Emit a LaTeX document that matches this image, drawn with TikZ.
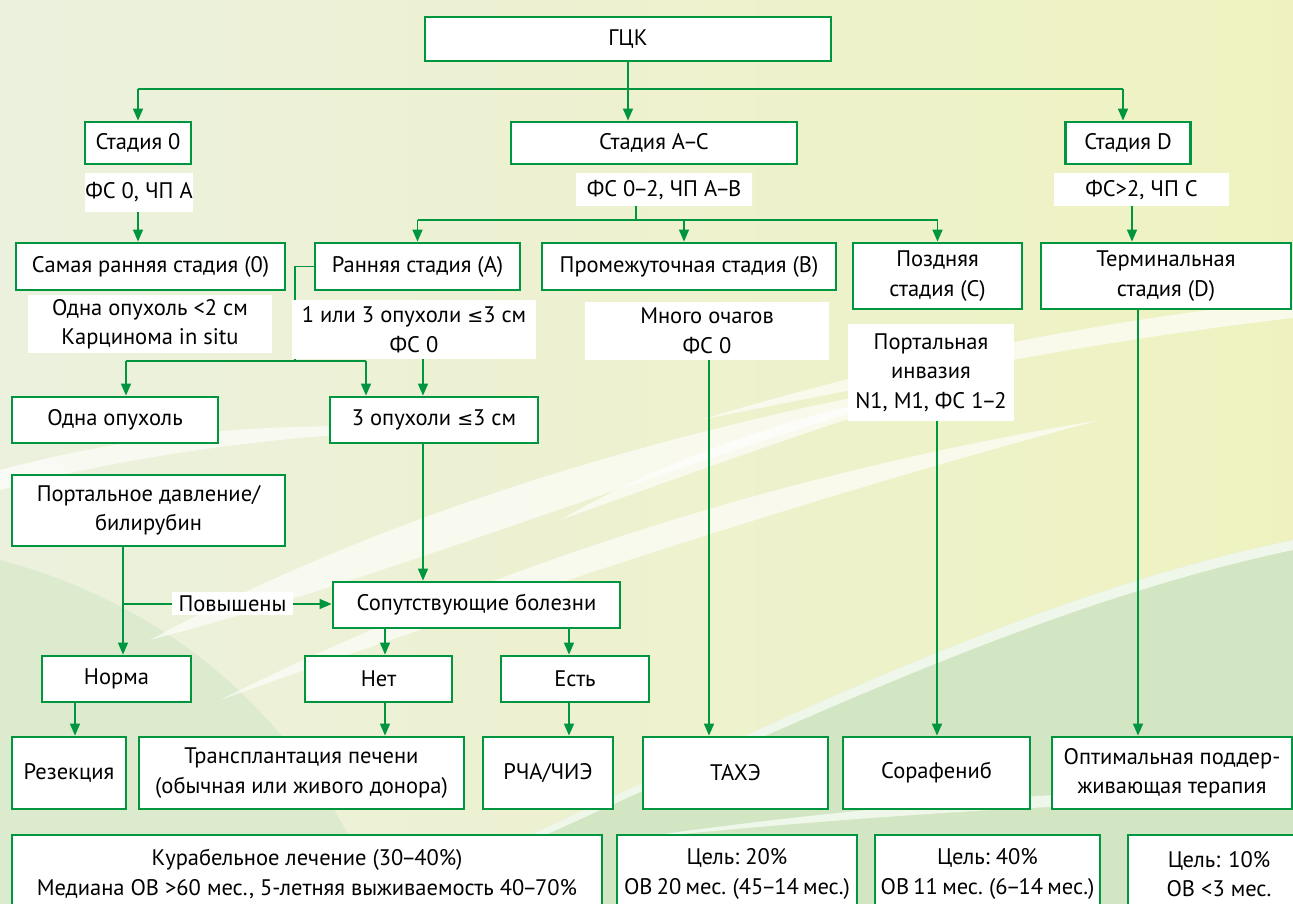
\documentclass[tikz,border=0pt]{standalone}
\usepackage{fontspec}
\setmainfont{PT Sans}
\newfontfamily\djv{DejaVu Sans}
\usetikzlibrary{arrows.meta}
\definecolor{grn}{RGB}{0,150,64}
\definecolor{bgA}{RGB}{236,241,222}
\definecolor{bgB}{RGB}{239,242,192}
\definecolor{bgG}{RGB}{210,230,196}
\newcommand\myfs{\fontsize{22.5}{29.5}\selectfont}
\newcommand\myfsn{\fontsize{22.5}{29.5}\selectfont\spaceskip=0.19em plus 0.05em}
\newcommand\myle{{\djv\fontsize{19}{29.5}\selectfont ≤}}
\newcommand\nd{\kern-2pt–\kern-2pt}
\begin{document}
\begin{tikzpicture}[x=1pt,y=-1pt,
 box/.style={draw=grn,line width=2.8pt,fill=white,inner sep=0pt,align=center,font=\myfs},
 lab/.style={fill=white,inner sep=0pt,align=center,font=\myfs},
 con/.style={draw=grn,line width=1.5pt},
 arr/.style={con,-{Triangle[length=12pt,width=10pt]}},
 streak/.style={fill=white,opacity=0.65,draw=none}]
\useasboundingbox (0,0) rectangle (1293,904);
\clip (0,0) rectangle (1293,904);
% background
\shade[left color=bgA,right color=bgB] (0,0) rectangle (1293,904);
\fill[bgG] (380,904) .. controls (700,760) and (1000,600) .. (1293,540) -- (1293,904) -- cycle;
\fill[bgG!60!bgA] (0,560) .. controls (150,600) and (300,700) .. (380,904) -- (0,904) -- cycle;
\path[streak] (150,640) .. controls (400,505) and (700,420) .. (1000,370) .. controls (700,450) and (400,575) .. (150,640) -- cycle;
\path[streak] (220,700) .. controls (500,560) and (800,470) .. (1100,420) .. controls (800,500) and (500,600) .. (220,700) -- cycle;
\path[streak] (700,420) .. controls (900,360) and (1100,320) .. (1293,300) -- (1293,318) .. controls (1100,340) and (900,380) .. (700,420) -- cycle;
\path[streak] (380,904) .. controls (700,760) and (1000,600) .. (1293,540) -- (1293,550) .. controls (1000,612) and (700,770) .. (390,904) -- cycle;
\path[streak] (620,840) .. controls (900,800) and (1100,790) .. (1293,785) -- (1293,800) .. controls (1100,802) and (900,812) .. (620,840) -- cycle;
\path[streak] (0,470) .. controls (150,430) and (300,420) .. (420,430) .. controls (300,435) and (150,450) .. (0,490) -- cycle;
\path[streak] (560,520) .. controls (700,440) and (850,400) .. (960,385) .. controls (850,415) and (700,470) .. (560,520) -- cycle;

% boxes
\node[box,minimum width=406pt,minimum height=44pt] (gck) at (628,39) {ГЦК};
\node[box,minimum width=106pt,minimum height=42pt] (s0) at (138,143) {Стадия 0};
\node[box,minimum width=286pt,minimum height=42pt] (sac) at (654,143) {Стадия А\nd С};
\node[box,minimum width=125pt,minimum height=42pt] (sd) at (1128,143) {Стадия D};

\node[box,minimum width=269pt,minimum height=47pt] (sr0) at (150.5,266.5) {Самая ранняя стадия (0)};
\node[box,minimum width=205pt,minimum height=47pt] (ra) at (417.5,266.5) {Ранняя стадия (А)};
\node[box,minimum width=294pt,minimum height=47pt] (pr) at (689,266.5) {Промежуточная стадия (В)};
\node[box,minimum width=169pt,minimum height=66pt] (pz) at (937.5,276) {Поздняя\\стадия (С)};
\node[box,minimum width=250pt,minimum height=66pt] (tm) at (1166,276) {Терминальная\\стадия (D)};

\node[box,minimum width=206pt,minimum height=46pt] (oo) at (115,420) {Одна опухоль};
\node[box,minimum width=208pt,minimum height=46pt] (t3) at (434,420) {3 опухоли \myle3 см};

\node[box,minimum width=273pt,minimum height=71pt] (pd) at (148.5,510.5) {Портальное давление/\\билирубин};
\node[box,minimum width=287pt,minimum height=46pt] (sb) at (476.5,605) {Сопутствующие болезни};

\node[box,minimum width=149pt,minimum height=46pt] (nm) at (116.5,679) {Норма};
\node[box,minimum width=147pt,minimum height=46pt] (nt) at (378.5,679) {Нет};
\node[box,minimum width=148pt,minimum height=46pt] (es) at (575,679) {Есть};

\node[box,minimum width=114pt,minimum height=72pt] (rz) at (69,773) {Резекция};
\node[box,minimum width=325pt,minimum height=72pt] (tp) at (301.5,773) {Трансплантация печени\\(обычная или живого донора)};
\node[box,minimum width=130pt,minimum height=72pt] (rc) at (548,773) {РЧА/ЧИЭ};
\node[box,minimum width=185pt,minimum height=72pt] (tx) at (735.5,773) {ТАХЭ};
\node[box,minimum width=187pt,minimum height=72pt] (sf) at (936.5,773) {Сорафениб};
\node[box,minimum width=240pt,minimum height=72pt] (op) at (1172,773) {Оптимальная поддер-\\живающая терапия};

\node[box,minimum width=590pt,minimum height=78pt] (kl) at (307,874) {Курабельное лечение (30\nd 40\%)\\Медиана ОВ >60 мес., 5-летняя выживаемость 40\nd 70\%};
\node[box,font=\myfsn,minimum width=240pt,minimum height=78pt] (c20) at (737,874) {Цель: 20\%\\ОВ 20 мес. (45\nd 14 мес.)};
\node[box,font=\myfsn,minimum width=225pt,minimum height=78pt] (c40) at (987.5,874) {Цель: 40\%\\ОВ 11 мес. (6\nd 14 мес.)};
\node[box,minimum width=182pt,minimum height=78pt] (c10) at (1219,874) {Цель: 10\%\\ОВ <3 мес.};

% helper coordinates
\coordinate (h1) at (0,89);
\coordinate (h2) at (636,220);
\coordinate (vd) at (1132,0);
\coordinate (e1) at (295,361);
\coordinate (hL) at (126,361);
\coordinate (hR) at (366,361);
\coordinate (v3) at (423,0);
\coordinate (vp) at (123,0);
\coordinate (br) at (123,604);
\coordinate (vn) at (75,0);
\coordinate (vnt) at (385,0);
\coordinate (ves) at (569,0);
\coordinate (vt) at (709,0);
\coordinate (vs) at (937,0);
\coordinate (vo) at (1138,0);
\coordinate (v0) at (138,0);
\coordinate (vpr) at (684,0);
\coordinate (vsd) at (1123,0);

% connectors
\draw[arr] (gck.south) -- (gck.south |- sac.north);
\draw[con] (s0.north |- h1) -- (vsd |- h1);
\draw[arr] (s0.north |- h1) -- (s0.north);
\draw[arr] (vsd |- h1) -- (vsd |- sd.north);

\draw[arr] (v0 |- 0,212) -- (v0 |- sr0.north);
\draw[con] (h2 |- 0,206) -- (h2);
\draw[con] (ra.north |- h2) -- (pz.north |- h2);
\draw[arr] (ra.north |- h2) -- (ra.north);
\draw[arr] (vpr |- h2) -- (vpr |- pr.north);
\draw[arr] (pz.north |- h2) -- (pz.north);
\draw[arr] (vd |- 0,206) -- (vd |- tm.north);

\draw[con] (ra.west) -| (e1);
\draw[con] (hL) -- (hR);
\draw[arr] (hL) -- (hL |- oo.north);
\draw[arr] (hR) -- (hR |- t3.north);
\draw[arr] (v3 |- 0,359) -- (v3 |- t3.north);
\draw[arr] (v3 |- t3.south) -- (v3 |- sb.north);

\draw[arr] (vp |- pd.south) -- (vp |- nm.north);
\draw[con] (br) -- (172,604);
\draw[arr] (293,604) -- (sb.west |- 0,604);
\draw[arr] (vnt |- sb.south) -- (vnt |- nt.north);
\draw[arr] (ves |- sb.south) -- (ves |- es.north);

\draw[arr] (vn |- nm.south) -- (vn |- rz.north);
\draw[arr] (vnt |- nt.south) -- (vnt |- tp.north);
\draw[arr] (ves |- es.south) -- (ves |- rc.north);
\draw[arr] (vt |- 0,360) -- (vt |- tx.north);
\draw[arr] (vs |- 0,421) -- (vs |- sf.north);
\draw[arr] (vo |- tm.south) -- (vo |- op.north);

% labels
\node[lab,minimum width=104pt,minimum height=39pt] (l0) at (139,192.5) {ФС 0, ЧП А};
\node[lab,minimum width=176pt,minimum height=33pt] (lac) at (664,190) {ФС 0\nd 2, ЧП А\nd В};
\node[lab,minimum width=175pt,minimum height=33pt] (ld) at (1141.5,190) {ФС>2, ЧП С};
\node[lab,minimum width=244pt,minimum height=58pt] (l1) at (150,324) {Одна опухоль <2 см\\Карцинома in situ};
\node[lab,minimum width=244pt,minimum height=59pt] (l2) at (414,329.5) {1 или 3 опухоли \myle3 см\\ФС 0};
\node[lab,minimum width=244pt,minimum height=58pt] (l3) at (707,331) {Много очагов\\ФС 0};
\node[lab,minimum width=166pt,minimum height=97pt] (l4) at (931,372.5) {Портальная\\инвазия\\N1, M1, ФС 1\nd 2};
\node[lab,minimum width=121pt,minimum height=23pt] (pov) at (232.5,603.5) {Повышены};
\end{tikzpicture}
\end{document}
